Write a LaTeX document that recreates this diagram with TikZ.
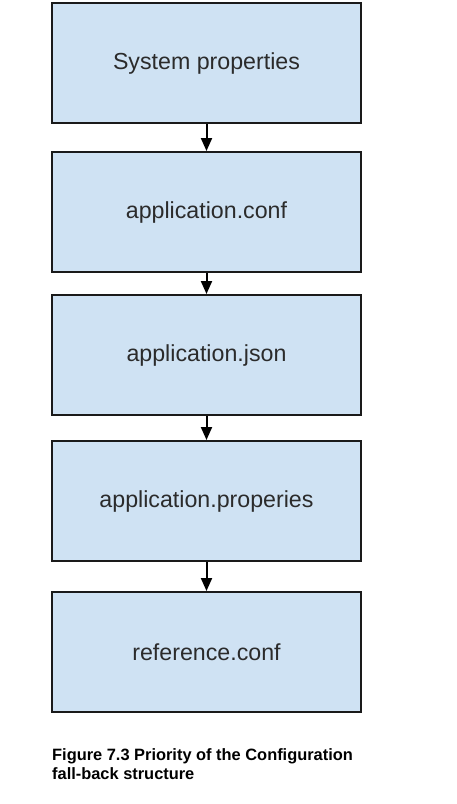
\documentclass[tikz,border=0pt]{standalone}
\usepackage{fontspec}
\setmainfont{Liberation Sans}
\usetikzlibrary{arrows.meta}
\definecolor{boxfill}{HTML}{CFE2F3}
\definecolor{boxline}{HTML}{1A1A1A}
\definecolor{txt}{HTML}{2B2B2B}
\begin{document}
\begin{tikzpicture}[x=1pt,y=-1pt,
  stage/.style={draw=boxline,line width=2pt,fill=boxfill,minimum width=309pt,minimum height=120pt,inner sep=0pt,font=\fontsize{23.2}{27}\selectfont,text=txt},
  flow/.style={draw=black,line width=2pt,-{Triangle[length=13pt,width=11pt]}}]
\useasboundingbox (0,0) rectangle (457,804);
\node[stage] (s1) at (206.5,63) {System properties};
\node[stage] (s2) at (206.5,212) {application.conf};
\node[stage] (s3) at (206.5,355) {application.json};
\node[stage] (s4) at (206.5,501) {application.properies};
\node[stage] (s5) at (206.5,652) {reference.conf};
\draw[flow] (s1) -- (s2);
\draw[flow] (s2) -- (s3);
\draw[flow] (s3) -- (s4);
\draw[flow] (s4) -- (s5);
\node[anchor=north west,align=left,inner sep=0pt,font=\bfseries\fontsize{16.4}{19}\selectfont] (cap) at (52,748) {Figure 7.3 Priority of the Configuration\\fall-back structure};
\end{tikzpicture}
\end{document}
